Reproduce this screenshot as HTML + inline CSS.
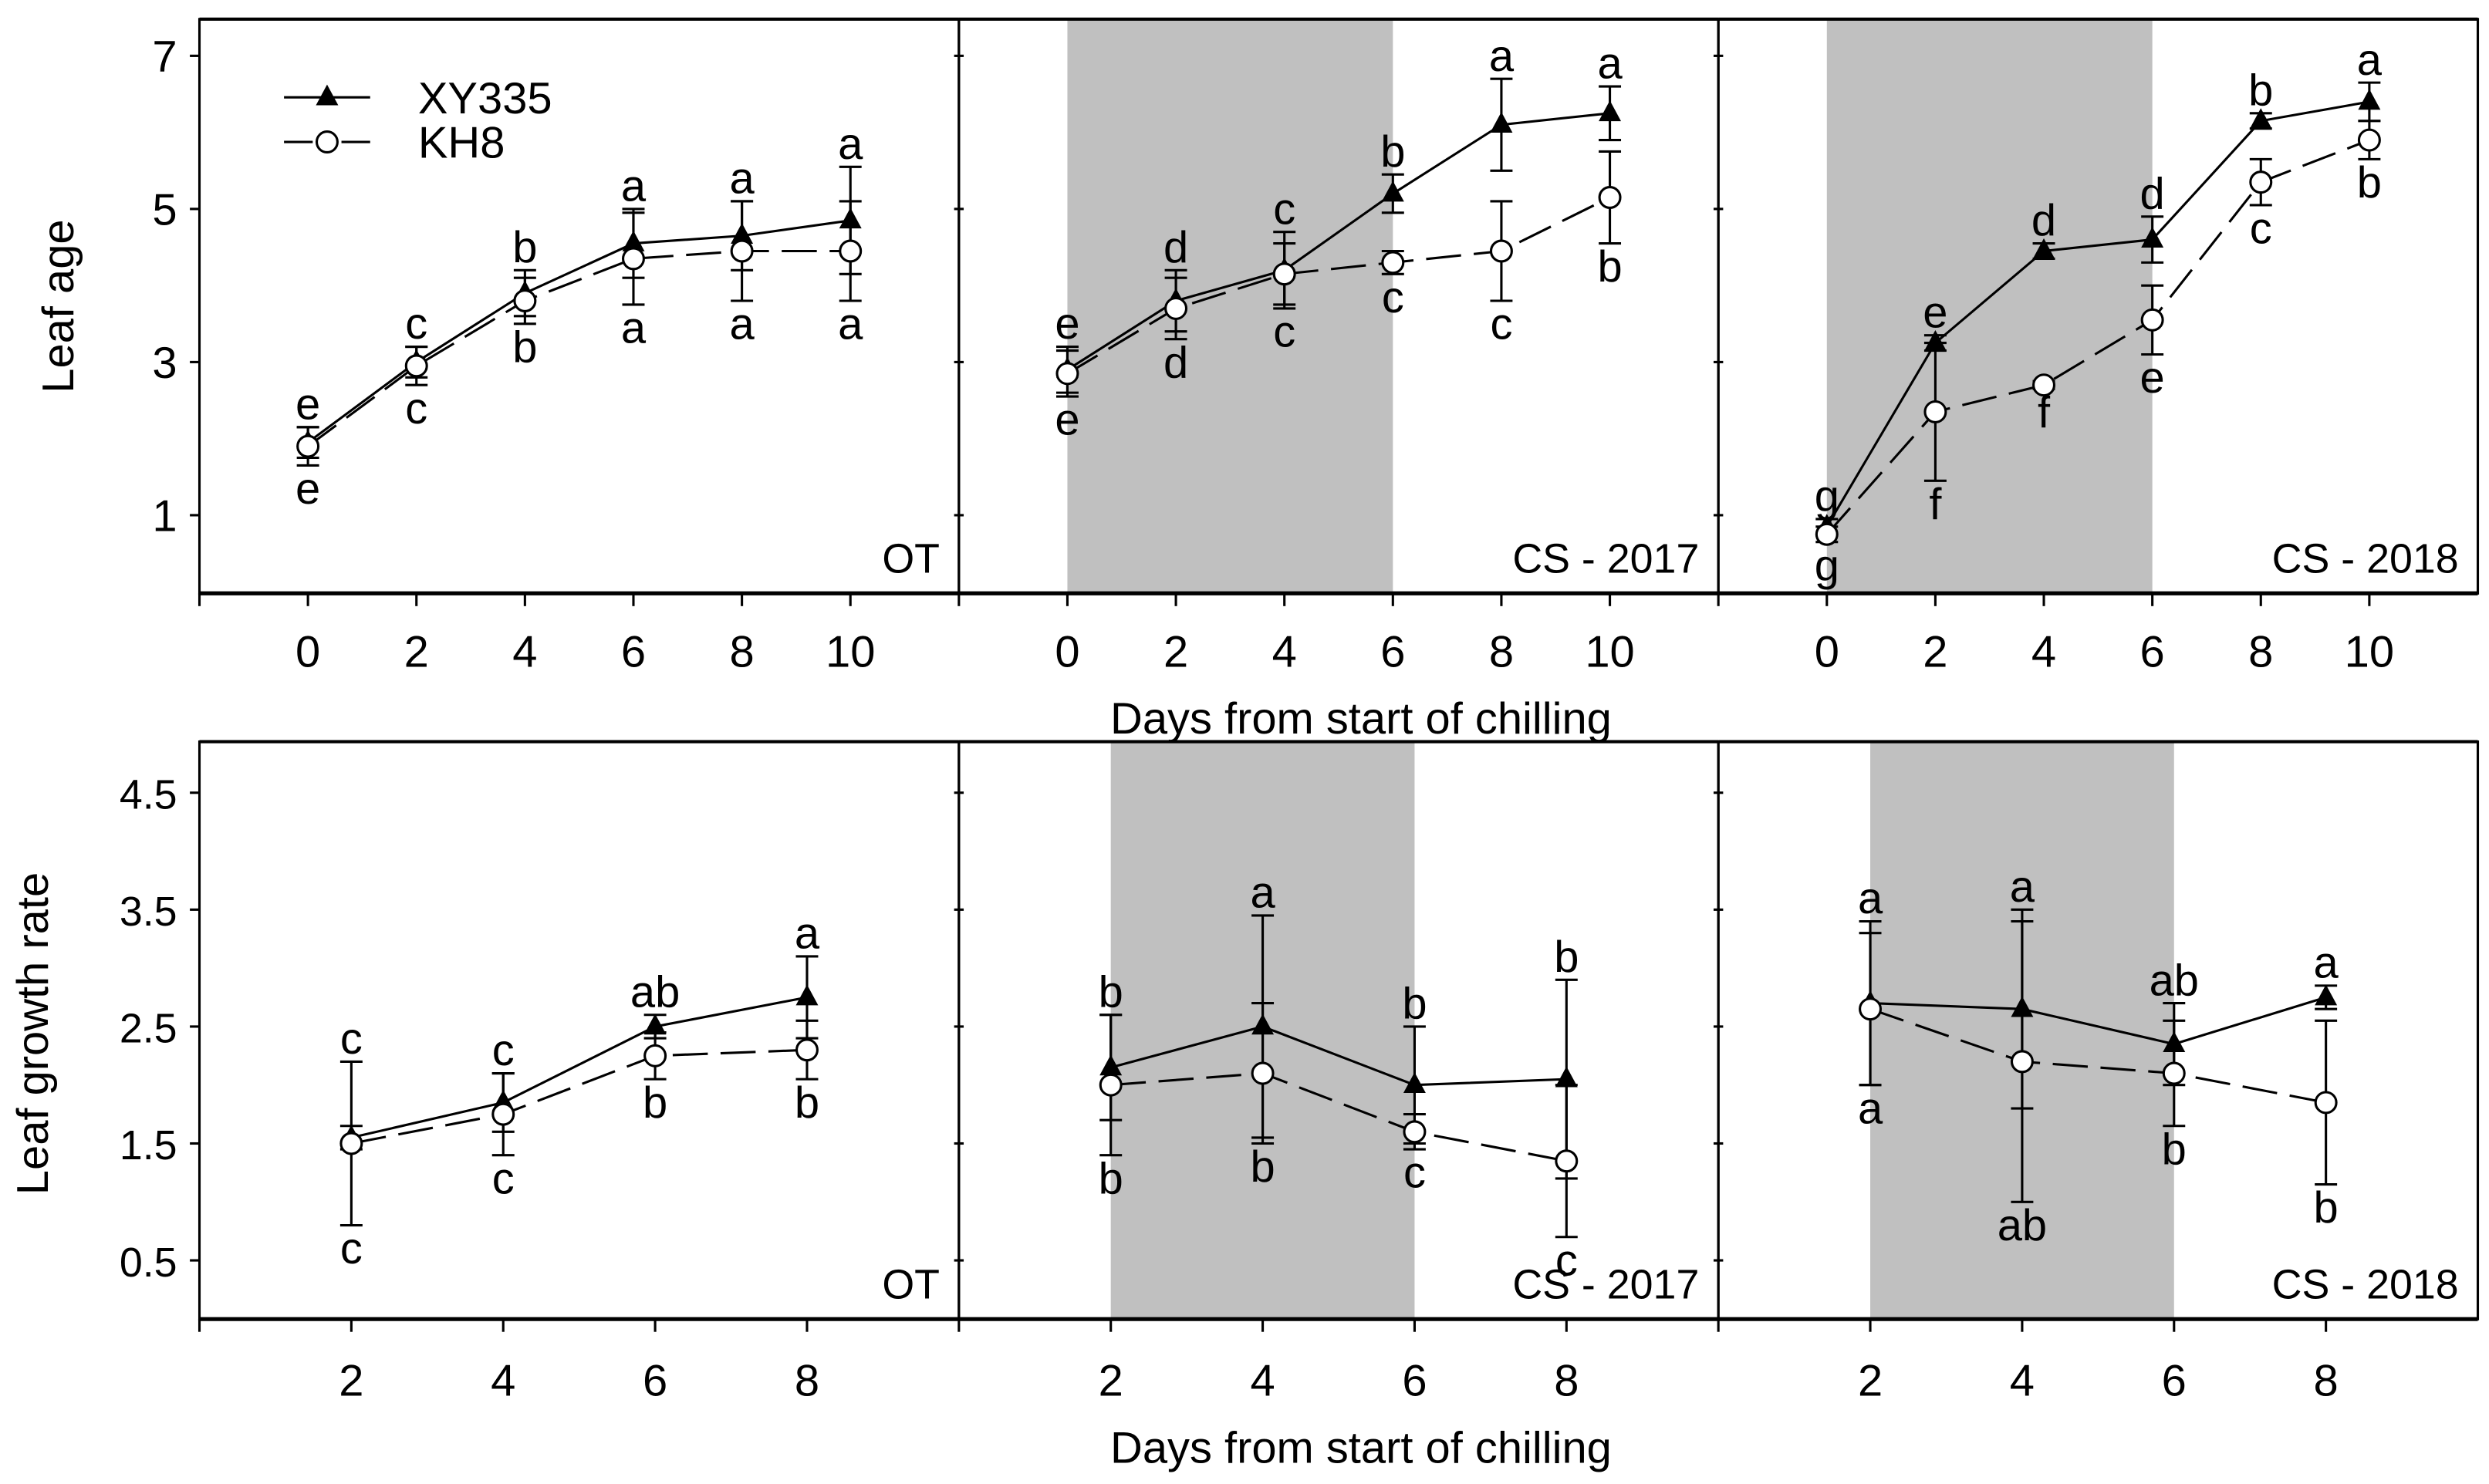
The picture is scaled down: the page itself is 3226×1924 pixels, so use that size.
<!DOCTYPE html>
<html><head><meta charset="utf-8"><style>
html,body{margin:0;padding:0;background:#fff}
svg{display:block}
text{font-family:"Liberation Sans",Arial,sans-serif;fill:#000}
</style></head><body>
<svg id="chart" width="3226" height="1924" viewBox="0 0 1560 930.4" xmlns="http://www.w3.org/2000/svg"></svg>
<script>
// ---- Data ----
const topDays = [0,2,4,6,8,10];
const botDays = [2,4,6,8];
const panelNames = ["OT","CS - 2017","CS - 2018"];
const topXY = [[1.95,3.0,3.9,4.55,4.65,4.85],[2.9,3.8,4.2,5.2,6.1,6.25],[0.85,3.25,4.45,4.6,6.15,6.4]];
const topXYErr = [[0.2,0.2,0.3,0.45,0.45,0.7],[0.3,0.4,0.5,0.25,0.6,0.35],[0.1,0.1,0.1,0.3,0.1,0.25]];
const topKH = [[1.9,2.95,3.8,4.35,4.45,4.45],[2.85,3.7,4.15,4.3,4.45,5.15],[0.75,2.35,2.7,3.55,5.35,5.9]];
const topKHErr = [[0.25,0.25,0.3,0.6,0.65,0.65],[0.3,0.4,0.4,0.15,0.65,0.6],[0.1,0.9,0.05,0.45,0.3,0.25]];
const topUp = [["e","c","b","a","a","a"],["e","d","c","b","a","a"],["g","e","d","d","b","a"]];
const topDn = [["e","c","b","a","a","a"],["e","d","c","c","c","b"],["g","f","f","e","c","b"]];
const botXY = [[1.55,1.85,2.5,2.75],[2.15,2.5,2.0,2.05],[2.7,2.65,2.35,2.75]];
const botXYErr = [[0.1,0.25,0.1,0.35],[0.45,0.95,0.5,0.85],[0.7,0.85,0.35,0.1]];
const botKH = [[1.5,1.75,2.25,2.3],[2.0,2.1,1.6,1.35],[2.65,2.2,2.1,1.85]];
const botKHErr = [[0.7,0.35,0.2,0.25],[0.6,0.6,0.15,0.65],[0.65,1.2,0.45,0.7]];
const botUp = [["c","c","ab","a"],["b","a","b","b"],["a","a","ab","a"]];
const botDn = [["c","c","b","b"],["b","b","c","c"],["a","ab","b","b"]];
const topYTicks = [1,3,5,7];
const botYTicks = [0.5,1.5,2.5,3.5,4.5];
const shadeTop = [null,[0,6],[0,6]];
const shadeBot = [null,[2,6],[2,6]];

const svg = document.getElementById('chart');
const NS = 'http://www.w3.org/2000/svg';
function mk(tag, attrs, parent){const e=document.createElementNS(NS,tag);for(const k in attrs)e.setAttribute(k,attrs[k]);(parent||svg).appendChild(e);return e;}
function txt(s,x,y,size,anchor,parent){const t=mk('text',{x:x,y:y,'font-size':size,'text-anchor':anchor||'middle'},parent);t.textContent=s;return t;}

const PL=[125,601,1077], PW=476;
// top axes
const tY = v=>35+(7-v)*48;
const tX = (p,d)=>PL[p]+68+d*34;
const bY = v=>497+(4.5-v)*73.3;
const bX = (p,d)=>PL[p]+d*47.6;

function panel(row,p){
  const top=row?465:12, bot=row?827:372;
  const g=mk('g',{});
  
  
  const sh=row?shadeBot[p]:shadeTop[p];
  const X=row?(d=>bX(p,d)):(d=>tX(p,d)), Y=row?bY:tY;
  if(sh){const r=mk('rect',{x:X(sh[0]),y:top,width:X(sh[1])-X(sh[0]),height:bot-top,fill:'#c0c0c0'},g);
    }
  mk('rect',{x:PL[p],y:top,width:PW,height:bot-top,fill:'none',stroke:'#000','stroke-width':1.5},g);
  mk('line',{x1:PL[p],x2:PL[p]+PW,y1:bot,y2:bot,stroke:'#000','stroke-width':2.5},g);
  mk('line',{x1:PL[p],x2:PL[p]+PW,y1:top,y2:top,stroke:'#000','stroke-width':2},g);
  // y ticks
  const yt=row?botYTicks:topYTicks;
  yt.forEach(v=>{
    if(p===0){mk('line',{x1:PL[0]-6,x2:PL[0],y1:Y(v),y2:Y(v),stroke:'#000','stroke-width':1.5},g);
      const t=txt(String(v),PL[0]-14,Y(v)+10,row?26:28,'end',g);
      }
    else mk('line',{x1:PL[p]-3,x2:PL[p]+3,y1:Y(v),y2:Y(v),stroke:'#000','stroke-width':1.5},g);
  });
  // x ticks
  const days=row?botDays:topDays;
  mk('line',{x1:PL[p],x2:PL[p],y1:bot,y2:bot+8,stroke:'#000','stroke-width':1.5},g);
  days.forEach(d=>{
    mk('line',{x1:X(d),x2:X(d),y1:bot,y2:bot+8,stroke:'#000','stroke-width':1.5},g);
    const t=txt(String(d),X(d),row?875:418,28,'middle',g);
    
  });
  const xy=row?botXY[p]:topXY[p], xe=row?botXYErr[p]:topXYErr[p];
  const kh=row?botKH[p]:topKH[p], ke=row?botKHErr[p]:topKHErr[p];
  const up=row?botUp[p]:topUp[p], dn=row?botDn[p]:topDn[p];
  // error bars
  [[xy,xe],[kh,ke]].forEach(([m,e])=>{
    days.forEach((d,i)=>{
      const x=X(d);
      mk('line',{x1:x,x2:x,y1:Y(m[i]+e[i]),y2:Y(m[i]-e[i]),stroke:'#000','stroke-width':1.5},g);
      [m[i]+e[i],m[i]-e[i]].forEach(v=>mk('line',{x1:x-7,x2:x+7,y1:Y(v),y2:Y(v),stroke:'#000','stroke-width':1.5},g));
    });
  });
  // lines
  const l1=mk('polyline',{points:days.map((d,i)=>X(d)+','+Y(xy[i])).join(' '),fill:'none',stroke:'#000','stroke-width':1.5},g);
  
  const l2=mk('polyline',{points:days.map((d,i)=>X(d)+','+Y(kh[i])).join(' '),fill:'none',stroke:'#000','stroke-width':1.5,'stroke-dasharray':'22,8'},g);
  
  days.forEach((d,i)=>{
    const x=X(d), y=Y(xy[i]);
    const tr=mk('polygon',{points:`${x},${y-8} ${x-7},${y+5} ${x+7},${y+5}`,fill:'#000'},g);
    
    const c=mk('circle',{cx:x,cy:Y(kh[i]),r:6.5,fill:'#fff',stroke:'#000','stroke-width':1.5},g);
    
    const hi=Math.max(xy[i]+xe[i],kh[i]+ke[i]), lo=Math.min(xy[i]-xe[i],kh[i]-ke[i]);
    const a=txt(up[i],x,Y(hi)-5,28,'middle',g);
    
    const b=txt(dn[i],x,Y(lo)+24,28,'middle',g);
    
  });
  const pl=txt(panelNames[p],PL[p]+PW-12,bot-13,26,'end',g);
  
}
for(let p=0;p<3;p++){panel(0,p);panel(1,p);}

// axis titles
let t=txt('Days from start of chilling',853,460,28,'middle');

t=txt('Days from start of chilling',853,917,28,'middle');

t=mk('text',{x:0,y:0,'font-size':28,'text-anchor':'middle',transform:'translate(46,192) rotate(-90)'});t.textContent='Leaf age';

t=mk('text',{x:0,y:0,'font-size':28,'text-anchor':'middle',transform:'translate(30,648) rotate(-90)'});t.textContent='Leaf growth rate';


// legend
const lg=mk('g',{});

mk('line',{x1:178,x2:232,y1:61,y2:61,stroke:'#000','stroke-width':1.5},lg);
mk('polygon',{points:'205,53 198,66 212,66',fill:'#000'},lg);
txt('XY335',262,71,28,'start',lg);
mk('line',{x1:178,x2:196,y1:89,y2:89,stroke:'#000','stroke-width':1.5},lg);
mk('line',{x1:214,x2:232,y1:89,y2:89,stroke:'#000','stroke-width':1.5},lg);
mk('circle',{cx:205,cy:89,r:6.5,fill:'#fff',stroke:'#000','stroke-width':1.5},lg);
txt('KH8',262,99,28,'start',lg);
</script>
</body></html>
